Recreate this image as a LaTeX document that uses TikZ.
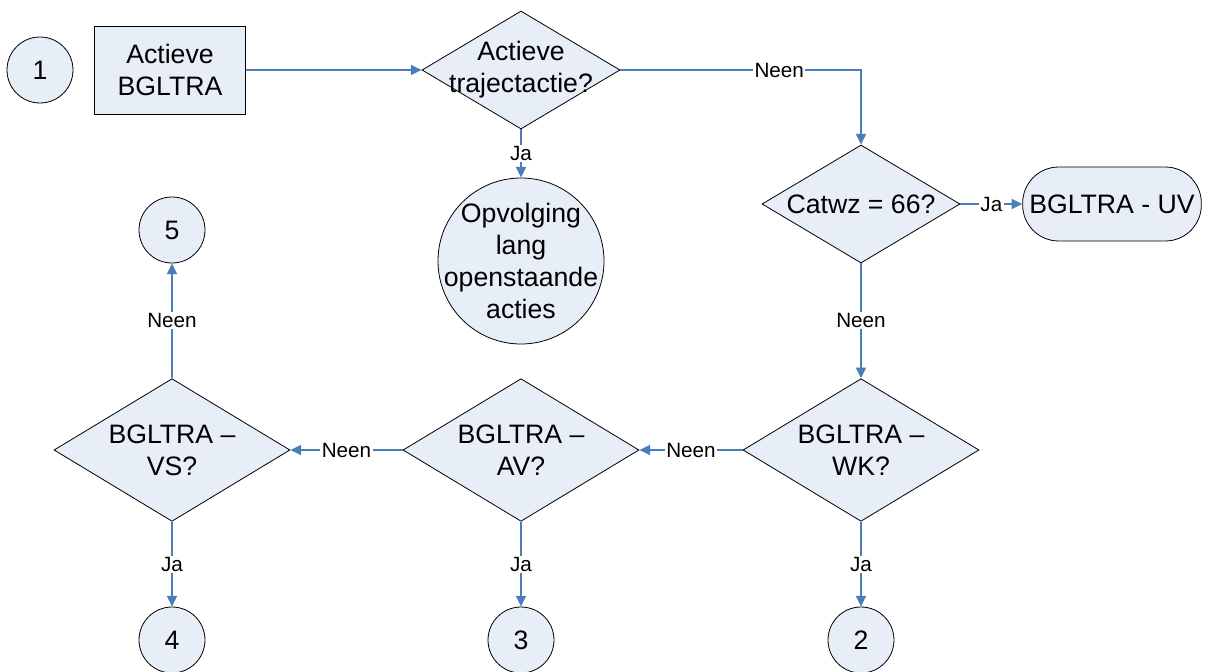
\documentclass[tikz,border=0pt]{standalone}
\usepackage{fontspec}
\setmainfont{Liberation Sans}
\usepackage{xcolor}
\usetikzlibrary{graphs}
\usetikzlibrary{arrows.meta,shapes.geometric}
\definecolor{boxfill}{RGB}{232,238,247}
\definecolor{flowblue}{RGB}{74,126,187}
\tikzset{
	txt/.style={font=\fontsize{20}{24}\selectfont, align=center},
	lbl/.style={font=\fontsize{15.5}{18}\selectfont, fill=white, inner sep=1pt, text=black},
	num/.style={circle, draw, fill=boxfill, minimum size=49.5pt, inner sep=0pt, txt},
	task/.style={rectangle, draw, fill=boxfill, minimum width=113pt, minimum height=66pt, inner sep=0pt, txt},
	term/.style={rectangle, rounded corners=27pt, draw, fill=boxfill, minimum width=134pt, minimum height=55.5pt, inner sep=0pt, txt},
	hold/.style={circle, draw, fill=boxfill, minimum size=124.5pt, inner sep=0pt, label={[txt]center:#1}},
	query/.style={diamond, draw, fill=boxfill, inner sep=0pt, minimum width=148.5pt, minimum height=88.5pt, label={[txt]center:#1}},
	big/.style={minimum width=177pt, minimum height=107pt},
	says/.style={edge node={node[lbl]{#1}}},
	flow/.style={draw=flowblue, line width=1.2pt, >={Triangle[length=8pt, width=7.5pt]}}
}

\begin{document}
\begin{tikzpicture}[x=0.75pt, y=-0.75pt, line width=0.6pt]
	\useasboundingbox (0,0) rectangle (1206,671);
	\graph[multi, no placement, edges={flow}]{
		c1/1[num, at={(40,70)}];
		start/{Actieve\\BGLTRA}[task, at={(170,70)}] -> q1/{}[query={Actieve\\trajectactie?}, at={(521,70)}];
		q1 ->[says=Ja] opv/{}[hold={Opvolging\\lang\\openstaande\\acties}, at={(521,261)}];
		q1 ->[to path={-| (\tikztotarget) \tikztonodes}, edge node={node[lbl, pos=0.33]{Neen}}] catwz/{}[query={Catwz = 66?}, at={(861,204)}];
		catwz ->[says=Ja] uv/{BGLTRA - UV}[term, at={(1112,204)}];
		catwz ->[says=Neen] wk/{}[query={BGLTRA –\\WK?}, big, at={(861,450)}];
		wk ->[says=Ja] c2/2[num, at={(861,640)}];
		wk ->[says=Neen] av/{}[query={BGLTRA –\\AV?}, big, at={(521,450)}];
		av ->[says=Ja] c3/3[num, at={(521,640)}];
		av ->[says=Neen] vs/{}[query={BGLTRA –\\VS?}, big, at={(172,450)}];
		vs ->[says=Ja] c4/4[num, at={(172,640)}];
		vs ->[says=Neen] c5/5[num, at={(172,230)}];
	};
\end{tikzpicture}
\end{document}
